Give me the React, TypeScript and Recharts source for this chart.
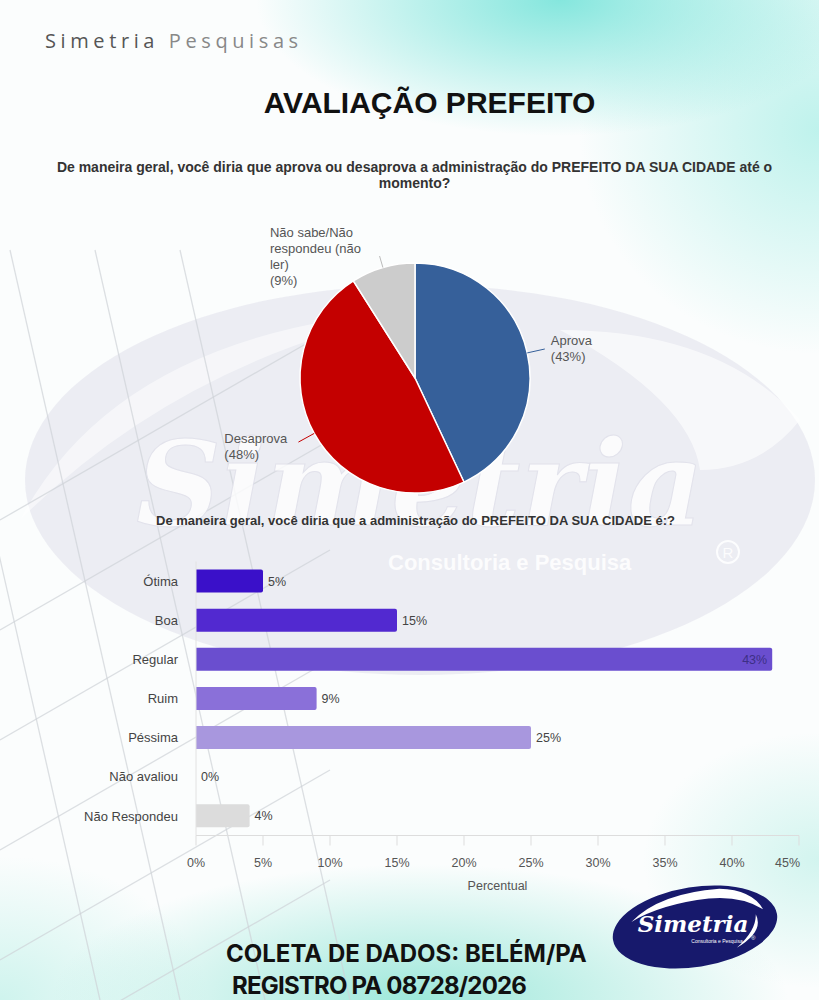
import React from 'react';
import {
  PieChart,
  Pie,
  Cell,
  BarChart,
  Bar,
  XAxis,
  YAxis,
  LabelList,
} from 'recharts';

// pie: aprova / desaprova
const pieNames = ['Aprova', 'Desaprova', 'Não sabe/Não respondeu (não ler)'];
const pieValues = [43, 48, 9];
const pieLabelLines = [
  ['Aprova', '(43%)'],
  ['Desaprova', '(48%)'],
  ['Não sabe/Não', 'respondeu (não', 'ler)', '(9%)'],
];

// bars: avaliação
const categories = ['Ótima', 'Boa', 'Regular', 'Ruim', 'Péssima', 'Não avaliou', 'Não Respondeu'];
const percentages = [5, 15, 43, 9, 25, 0, 4];
const xTicks = [0, 5, 10, 15, 20, 25, 30, 35, 40, 45];

const pieColors = ['#36609a', '#c40000', '#cccccc'];
const barColors = ['#3a10c9', '#5229d0', '#6a4ecf', '#8a70d9', '#a897de', '#cfc6ee', '#dcdcdc'];

const pieData = pieNames.map((name, i) => ({ name, value: pieValues[i] }));
const barData = categories.map((name, i) => ({ name, value: percentages[i] }));

const FONT = '"Liberation Sans", Arial, sans-serif';
const RAD = Math.PI / 180;

// per-label tweaks (line length, block shift)
const labelLayout = [
  { len: 18, dx: 6, dy: 0 },
  { len: 18, dx: -12, dy: 4 },
  { len: 12, dx: -13, dy: 0 },
];

const renderPieLabel = (props: any) => {
  const { cx, cy, midAngle, outerRadius, index } = props;
  const lay = labelLayout[index];
  const cos = Math.cos(-midAngle * RAD);
  const sin = Math.sin(-midAngle * RAD);
  const sx = cx + outerRadius * cos;
  const sy = cy + outerRadius * sin;
  const ex = cx + (outerRadius + lay.len) * cos;
  const ey = cy + (outerRadius + lay.len) * sin;
  const lines = pieLabelLines[index];
  const right = cos >= 0;
  const w = Math.max(...lines.map((l) => l.length)) * 6.9;
  const x = right ? ex + lay.dx : ex + lay.dx - w;
  const y0 = ey + lay.dy + 4.5 - ((lines.length - 1) * 16) / 2;
  return (
    <g>
      <line x1={sx} y1={sy} x2={ex} y2={ey} stroke={index === 2 ? '#bbbbbb' : pieColors[index]} strokeWidth={1} />
      <text x={x} y={y0} fill="#555" fontSize={13} fontFamily={FONT}>
        {lines.map((l, i) => (
          <tspan key={i} x={x} dy={i === 0 ? 0 : 16}>
            {l}
          </tspan>
        ))}
      </text>
    </g>
  );
};

const renderBarLabel = (props: any) => {
  const { x, y, width, height, value } = props;
  const inside = value >= 40;
  return (
    <text
      x={inside ? x + width - 5 : x + width + 5}
      y={y + height / 2}
      dy={4.5}
      textAnchor={inside ? 'end' : 'start'}
      fill={inside ? '#3d2f86' : '#444'}
      fontSize={12.5}
      fontFamily={FONT}
    >
      {value}%
    </text>
  );
};

const renderXTick = (props: any) => {
  const { x, y, payload, index } = props;
  const last = index === xTicks.length - 1;
  return (
    <text x={last ? x + 1 : x} y={y} dy={12} textAnchor={last ? 'end' : 'middle'} fill="#555" fontSize={12.5} fontFamily={FONT}>
      {payload.value}%
    </text>
  );
};

function Watermark() {
  const steep = [-70, 10, 95, 180];
  const cross = [520, 630, 740, 850, 960, 1070];
  return (
    <svg width={819} height={1000} style={{ position: 'absolute', left: 0, top: 0 }}>
      <ellipse cx={420} cy={480} rx={395} ry={195} fill="#e2e2ec" opacity={0.6} />
      <path d="M 560 330 Q 720 330 800 420 Q 760 470 700 470 Q 690 400 560 330 Z" fill="#ffffff" opacity={0.6} />
      <path d="M 20 520 Q 120 330 420 310 Q 180 360 20 520 Z" fill="#ffffff" opacity={0.5} />
      {steep.map((x0, i) => (
        <line key={'s' + i} x1={x0} y1={250} x2={x0 + 170} y2={1000} stroke="#cfd3d8" strokeWidth={1.3} opacity={0.7} />
      ))}
      {cross.map((y0, i) => (
        <line key={'c' + i} x1={0} y1={y0} x2={330} y2={y0 - 190} stroke="#cfd3d8" strokeWidth={1.3} opacity={0.7} />
      ))}
      <text x={420} y={525} textAnchor="middle" fontSize={118} fontStyle="italic" fontWeight="bold"
        fontFamily='"DejaVu Serif", serif' fill="#ffffff" opacity={0.8} stroke="#e0e0ea" strokeWidth={1}>
        Simetria
      </text>
      <text x={388} y={570} fontSize={22} fontWeight="bold" fontFamily={FONT} fill="#ffffff" opacity={0.85}>
        Consultoria e Pesquisa
      </text>
      <circle cx={728} cy={552} r={11} fill="none" stroke="#ffffff" strokeWidth={2} opacity={0.85} />
      <text x={728} y={558} textAnchor="middle" fontSize={15} fontFamily={FONT} fill="#ffffff" opacity={0.85}>R</text>
    </svg>
  );
}

function Logo() {
  return (
    <svg width={180} height={95} style={{ position: 'absolute', left: 605, top: 880 }}>
      <g transform="rotate(-9 90 47)">
        <ellipse cx={90} cy={47} rx={83} ry={40} fill="#17196c" />
        <path d="M 28 32 Q 60 8 120 13 Q 152 19 160 40 Q 140 23 108 21 Q 60 19 28 32 Z" fill="#ffffff" />
        <path d="M 152 44 Q 158 62 128 74 Q 150 60 152 44 Z" fill="#ffffff" />
      </g>
      <text x={88} y={52} textAnchor="middle" fontSize={23} fontStyle="italic" fontWeight="bold"
        fontFamily='"DejaVu Serif", serif' fill="#ffffff">
        Simetria
      </text>
      <text x={112} y={63} textAnchor="middle" fontSize={5} fontFamily={FONT} fill="#ffffff">
        Consultoria e Pesquisa
      </text>
      <text x={146} y={60} fontSize={6} fontFamily={FONT} fill="#ffffff">®</text>
    </svg>
  );
}

export default function App() {
  return (
    <div
      style={{
        position: 'absolute',
        left: 0,
        top: 0,
        width: 819,
        height: 1000,
        overflow: 'hidden',
        fontFamily: FONT,
        background:
          'radial-gradient(ellipse 380px 170px at 560px 0px, rgba(120,228,218,0.9), rgba(255,255,255,0) 80%),' +
          'radial-gradient(ellipse 300px 280px at 819px 130px, rgba(150,235,225,0.6), rgba(255,255,255,0) 80%),' +
          'radial-gradient(ellipse 460px 170px at 420px 1000px, rgba(140,228,212,0.85), rgba(255,255,255,0) 80%),' +
          'radial-gradient(ellipse 260px 180px at 0px 1000px, rgba(170,236,225,0.55), rgba(255,255,255,0) 80%),' +
          'radial-gradient(ellipse 220px 160px at 819px 860px, rgba(170,236,225,0.5), rgba(255,255,255,0) 80%),' +
          '#fbfdfd',
      }}
    >
      <Watermark />

      <div style={{ position: 'absolute', left: 45, top: 27, fontFamily: '"Open Sans", sans-serif', fontSize: 20, letterSpacing: 4.6 }}>
        <span style={{ color: '#555' }}>Simetria</span>{' '}
        <span style={{ color: '#888' }}>Pesquisas</span>
      </div>

      <div style={{ position: 'absolute', left: 0, width: 819, top: 86, textAlign: 'center', fontSize: 30, fontWeight: 'bold', color: '#111', fontFamily: FONT, transform: 'translateX(20px)' }}>
        AVALIAÇÃO PREFEITO
      </div>

      <div style={{ position: 'absolute', left: 0, width: 819, top: 159, textAlign: 'center', fontSize: 14, fontWeight: 'bold', color: '#333', lineHeight: '16px', transform: 'translateX(5px)' }}>
        De maneira geral, você diria que aprova ou desaprova a administração do PREFEITO DA SUA CIDADE até o
        <br />
        momento?
      </div>

      <div style={{ position: 'absolute', left: 0, top: 200, width: 819, height: 320 }}>
        <PieChart width={819} height={320}>
          <Pie
            data={pieData}
            dataKey="value"
            nameKey="name"
            cx={410}
            cy={173}
            outerRadius={115}
            startAngle={90}
            endAngle={-270}
            stroke="#ffffff"
            strokeWidth={1.5}
            label={renderPieLabel}
            labelLine={false}
            isAnimationActive={false}
          >
            {pieData.map((d, i) => (
              <Cell key={d.name} fill={pieColors[i]} />
            ))}
          </Pie>
        </PieChart>
      </div>

      <div style={{ position: 'absolute', left: 0, width: 819, top: 513, textAlign: 'center', fontSize: 13, fontWeight: 'bold', color: '#333', transform: 'translateX(6px)' }}>
        De maneira geral, você diria que a administração do PREFEITO DA SUA CIDADE é:?
      </div>

      <div style={{ position: 'absolute', left: 0, top: 540, width: 819, height: 360 }}>
        <BarChart
          layout="vertical"
          width={819}
          height={360}
          data={barData}
          margin={{ top: 21.5, right: 20, left: 10, bottom: 10 }}
          barSize={23}
        >
          <XAxis
            type="number"
            domain={[0, 45]}
            ticks={xTicks}
            tick={renderXTick}
            axisLine={{ stroke: '#dddddd' }}
            tickLine={{ stroke: '#dddddd' }}
            tickSize={10}
            tickMargin={9}
            height={54.5}
            label={{ value: 'Percentual', position: 'insideBottom', offset: 0, fill: '#555', fontSize: 12.5, fontFamily: FONT }}
          />
          <YAxis
            type="category"
            dataKey="name"
            width={186}
            tick={{ fill: '#444', fontSize: 13, fontFamily: FONT }}
            axisLine={{ stroke: '#e2e2e2' }}
            tickLine={false}
            tickMargin={12}
          />
          <Bar dataKey="value" radius={[0, 2, 2, 0]} minPointSize={0.01} isAnimationActive={false}>
            {barData.map((d, i) => (
              <Cell key={d.name} fill={barColors[i]} />
            ))}
            <LabelList dataKey="value" content={renderBarLabel} />
          </Bar>
        </BarChart>
      </div>

      <Logo />

      <div style={{ position: 'absolute', left: 226, top: 938, fontFamily: 'Inter, "Open Sans", sans-serif', fontWeight: 700, fontSize: 24, color: '#111', lineHeight: '32px' }}>
        <div>COLETA DE DADOS: BELÉM/PA</div>
        <div style={{ marginLeft: 6, letterSpacing: -0.8 }}>REGISTRO PA 08728/2026</div>
      </div>
    </div>
  );
}
